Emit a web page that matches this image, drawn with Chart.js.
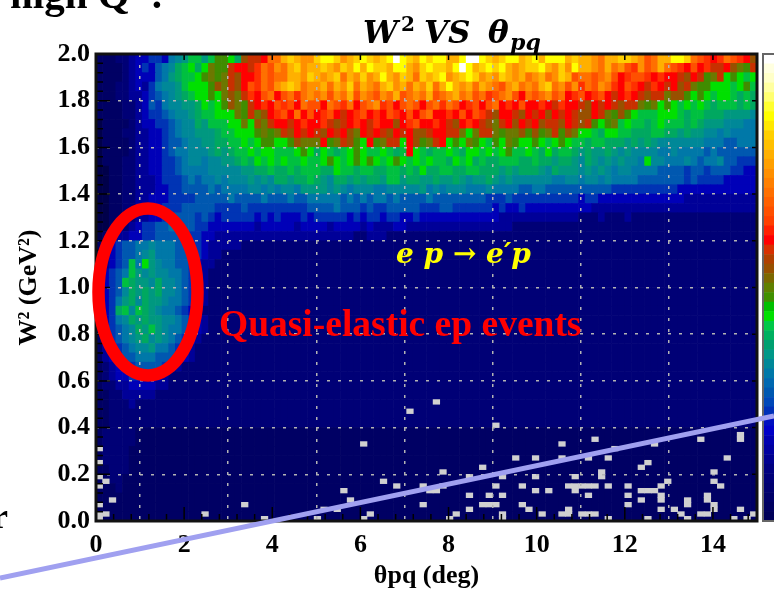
<!DOCTYPE html>
<html>
<head>
<meta charset="utf-8">
<title>W2 VS theta pq</title>
<script src="https://cdn.jsdelivr.net/npm/chart.js@4"></script>
<style>
  html, body { margin: 0; padding: 0; background: #fff; }
  canvas { display: block; }
</style>
</head>
<body>
<canvas id="grafico" width="774" height="593"></canvas>
<script>
const serif = '"Liberation Serif", serif';
const serifAncha = '"DejaVu Serif", serif';

// each row is one strip of W2 (0.04 wide) from 2.0 downwards, one char per 0.15 deg
// a short row keeps its last value up to 15 deg
const filasW2 = [
  "11122344554789bb9bddcafgghkkmnmllnoonlmnonmnoqonmonoommoqqonmnoomnomooomnmmlkmmnnmljkmmoonkjihikjihfge",
  "111123454678abcaceddghhgikjlkmnlmmnmlnmomonnmoomlnonnmoqomnonomlmnnomlnlommlkmkljiljkmkjihjhigghfedg",
  "111123444679abbcdedegfhhikjkkmmlnmlmnkmlnlmomlnmknmnolmnonlmlnmlmklmklnmjkkjkljhijjihihhgfhgdegcdcbc",
  "1112234357889bcccdfegfhjikjlmnmkllmkmlnkmlkmnlmkmlnkmomlmkmlkjlmklkmnkljlikjlkihjihgihghfgeddcccbcdb",
  "1112233456789abccdcefegihjkhjkiklkljlkmjlkjlkmjklkmjklmkljkijkljhkjkljkhijhijhghihgfggeffdcdcbccbaba",
  "111122346578899acbcdfedghihjijhkjjhkjikhjklijhjkjhjkikjhijhjkhihjhhihgihhgfhghgfggedecdcbcbcbabbbaba",
  "111122345567889abbcccedgefhijhkhjhijhghijhihjihjhjkhhihjhjigfhhgfhghfhghgffhgedfdcbbbcccbabbaaa99998",
  "011112344556788a9bbbccecfeghhghihhigfghihgihhfhijhhihgfhihgfeghfhghfggfhgfgdcdebcbbabcbbbaba99988877",
  "011122334456788999abbcccdedegfhghgfhghfehghgfhghffghhggeceggedeefdfdegdfeccbaccbbaaabbaa9a9988787777",
  "011112334456678899aabbcbcddccdfeeehdegfdchdeggchfdeghcdcedcbdcedccdcbcdcbbabbaaa9a9a98888888777667",
  "011112334456778889a9abbcbccbbbcdcacbabcdcbbcbabhcbabbcbaccbcbcdbbcbacabba9a99a98988887787777676666",
  "011122334455678878899abacbcbcbbcbbcdcbcdcdcbcdcbcbcbbacbcabaabbbaabaa9aa98a98989887c88777876778665",
  "001122334455677778888899aabaababbbaacbbabbaabbabacaabbaabbaaa9a9aaa98a99989898788777766665665666554",
  "001122333455567677878889898aa9aaba98aa9a9aa9bb9aa99a99a9899a9898888887788788787777666666656555544444",
  "0011223334455666676777788787887999989878887788888978788877787777667766666666665555555555444444444",
  "00112233444555566666766667666766777776767677676666766666666555655555555554554444444444444333333",
  "0011223344555666665555655555555566667666565566666555665555554544544444444443333333333333333",
  "00112233445666656545555545454445455555454554554454444444444443333333333332223222322222",
  "00122345566766655444444434444434444344443433344333333333333333322222222222",
  "01233445566665554433333333333333333333322333222222222",
  "1345667787776655433333222",
  "13456678977766554332222",
  "13456b7c9877665433222",
  "14567b9898877654322",
  "1456ba998a8876543222",
  "14568a9a9a8876543222",
  "14579a8a998776543222",
  "145ab8ba98776543222",
  "14578a9a998876543222",
  "145678a9b98776543222",
  "1356789a8987654322",
  "1345678897765432",
  "1345667776665432",
  "12345566665432",
  "1234455554322",
  "12233444433222",
  "112233333222",
  "11222322222",
  "1122222",
  "1122222",
  "1222221",
  "1222221",
  "122221",
  "122221",
  "112221",
  "11221",
  "11121",
  "1",
  "1",
  "1"
];

const paleta = {
  "0": "#00004a", "1": "#000064", "2": "#000076", "3": "#000098", "4": "#0000b8",
  "5": "#0034b4", "6": "#0058b0", "7": "#0078a8", "8": "#008898", "9": "#009880",
  "a": "#00a860", "b": "#00c040", "c": "#00e000", "d": "#408c00", "e": "#6c7800",
  "f": "#985000", "g": "#c83000", "h": "#ff0000", "i": "#ff3000", "j": "#ff5000",
  "k": "#ff7000", "l": "#ff9000", "m": "#ffb000", "n": "#ffd000", "o": "#ffff00",
  "p": "#ffff90", "q": "#ffffff"
};

// isolated low-count bins, light grey in the picture
const grisX = [0.1,0.1,0.1,0.25,0.1,0.35,0.1,0.1,0.25,0.1,2.45,3.35,3.8,5,5.1,5.45,5.6,5.75,6.05,6.05,6.2,6.5,6.8,
  7.7,7.1,9.1,7.4,7.55,7.7,7.85,7.85,7.4,8,8.15,8.45,8.45,8.45,8.75,8.9,8.7,8.85,9,9.2,9.1,9.2,9.2,9.2,9.5,9.65,9.65,9.8,
  10,10,10,10.3,10.15,10.6,10.6,10.85,10.65,10.8,10.95,11.1,10.85,11.15,11.15,11.3,11.3,11.45,11.45,11.6,11.6,11.75,
  10.6,10.75,10.75,10.95,11.1,11.25,11.6,12.05,12.05,12.05,12.3,12.45,12.6,12.35,12.35,12.5,12.65,12.5,12.8,12.95,
  12.8,12.8,12.8,13.1,13.25,13.4,13.4,13.4,13.7,13.7,13.85,13.85,13.85,14,14,14.15,14,14,14.3,14.6,14.6,14.6,14.45,14.75,14.9];
const grisY = [0.3,0.25,0.19,0.17,0.15,0.09,0.07,0.03,0.03,0.01,0.03,0.07,0.01,0.01,0.05,0.05,0.13,0.09,0.33,0.01,0.03,0.17,0.15,
  0.51,0.47,0.41,0.15,0.13,0.13,0.21,0.15,0.07,0.01,0.03,0.19,0.11,0.05,0.23,0.11,0.07,0.07,0.07,0.19,0.15,0.11,0.03,0.01,0.27,0.15,0.07,0.05,
  0.27,0.19,0.13,0.13,0.03,0.33,0.27,0.19,0.15,0.15,0.15,0.15,0.13,0.27,0.11,0.15,0.35,0.21,0.19,0.27,0.15,0.3,
  0.03,0.03,0.05,0.03,0.03,0.03,0.01,0.15,0.11,0.07,0.13,0.13,0.13,0.09,0.23,0.25,0.33,0.01,0.15,0.17,
  0.11,0.09,0.05,0.05,0.03,0.01,0.09,0.07,0.35,0.03,0.03,0.11,0.09,0.21,0.17,0.15,0.07,0.05,0.27,0.37,0.35,0.05,0.01,0.01,0.03];

// colour scale on the right, top to bottom
const bandasEscala = ["#ffffff","#ffffe0","#ffffc8","#ffffa0","#ffff70","#ffff30","#ffff00","#ffe800","#ffd000","#ffc000",
  "#ffb000","#ffa000","#ff9000","#ff8000","#ff7000","#ff6000","#ff5000","#ff4000","#ff2000","#ff0000",
  "#d83000","#b04000","#985000","#7c6800","#608000","#409000","#00c000","#00e000","#00c848","#00b060",
  "#00a070","#009888","#008898","#0078a8","#0068b0","#0058b0","#0048b8","#0030b8","#0010c0","#0000c8",
  "#0000b0","#0000a0","#000090","#000080","#000078","#000070","#000068","#000060","#000058"];

const ticksTheta = [0, 2, 4, 6, 8, 10, 12, 14];
const ticksW2 = [0, 0.2, 0.4, 0.6, 0.8, 1.0, 1.2, 1.4, 1.6, 1.8, 2.0];

const celdas = [];
const coloresCeldas = [];
filasW2.forEach((fila, i) => {
  const completa = fila.padEnd(100, fila[fila.length - 1]);
  for (let j = 0; j < 100; j++) {
    celdas.push({ x: (j + 0.5) * 0.15, y: [2 - (i + 1) * 0.04, 2 - i * 0.04] });
    coloresCeldas.push(paleta[completa[j]]);
  }
});

const celdasGrises = grisX.map((x, k) => {
  const col = Math.floor(x / 0.15 + 0.01);
  const fil = Math.floor(grisY[k] / 0.02);
  return { x: (col + 0.5) * 0.15, y: [fil * 0.02, (fil + 1) * 0.02] };
});

// ticks, frame, colour scale and the notes written over the plot
const marcoYNotas = {
  id: "marcoYNotas",
  afterDraw(chart) {
    const { ctx, chartArea: a, scales } = chart;
    ctx.save();

    ctx.strokeStyle = "#000";
    ctx.lineWidth = 1.5;
    ctx.beginPath();
    for (let v = 0; v <= 15; v += 0.4) {
      const px = scales.x.getPixelForValue(v);
      const mayor = Math.abs(v / 2 - Math.round(v / 2)) < 0.01;
      ctx.moveTo(px, a.bottom);
      ctx.lineTo(px, a.bottom - (mayor ? 14 : 7));
      if (mayor) { ctx.moveTo(px, a.top); ctx.lineTo(px, a.top + 6); }
    }
    for (let v = 0; v <= 2.001; v += 0.04) {
      const py = scales.y.getPixelForValue(v);
      const mayor = Math.abs(v / 0.2 - Math.round(v / 0.2)) < 0.01;
      ctx.moveTo(a.left, py);
      ctx.lineTo(a.left + (mayor ? 14 : 7), py);
      if (mayor) { ctx.moveTo(a.right, py); ctx.lineTo(a.right - 5, py); }
    }
    ctx.stroke();

    ctx.strokeStyle = "#111";
    ctx.lineWidth = 3;
    ctx.strokeRect(a.left, a.top, a.right - a.left, a.bottom - a.top);

    // escala de color
    const alto = (a.bottom - a.top) / bandasEscala.length;
    bandasEscala.forEach((color, i) => {
      ctx.fillStyle = color;
      ctx.fillRect(764, a.top + i * alto, 10, alto + 0.5);
    });
    ctx.strokeStyle = "#666";
    ctx.lineWidth = 2;
    ctx.strokeRect(763, a.top, 20, a.bottom - a.top);

    // anillo rojo
    ctx.strokeStyle = "#ff0000";
    ctx.lineWidth = 12.5;
    ctx.beginPath();
    ctx.ellipse(148, 292, 49.5, 83.5, 0, 0, Math.PI * 2);
    ctx.stroke();

    ctx.textBaseline = "alphabetic";
    ctx.textAlign = "left";

    ctx.fillStyle = "#ff0000";
    ctx.font = "bold 37.5px " + serif;
    ctx.fillText("Quasi-elastic ep events", 219, 336);

    ctx.fillStyle = "#ffff00";
    ctx.font = "italic bold 28px " + serifAncha;
    ctx.fillText("e p → e′p", 396, 263);

    ctx.fillStyle = "#000";
    ctx.font = "italic bold 31px " + serifAncha;
    ctx.fillText("W", 363, 43);
    ctx.fillText("VS", 424, 43);
    ctx.fillText("θ", 488, 43);
    ctx.font = "bold 20px " + serifAncha;
    ctx.fillText("2", 401, 31);
    ctx.font = "italic bold 22px " + serifAncha;
    ctx.fillText("pq", 510, 50);

    ctx.font = "bold 41px " + serif;
    ctx.fillText("high Q  :", 10, 8);
    ctx.font = "bold 36px " + serif;
    ctx.fillText("r", -8, 528);

    // linea azul encima de todo
    ctx.strokeStyle = "#a0a0f0";
    ctx.lineWidth = 5;
    ctx.beginPath();
    ctx.moveTo(0, 578);
    ctx.lineTo(774, 416);
    ctx.stroke();

    ctx.restore();
  }
};

new Chart(document.getElementById("grafico"), {
  type: "bar",
  data: {
    datasets: [
      {
        data: celdasGrises,
        backgroundColor: "#d0d0d0",
        grouped: false,
        barPercentage: 1,
        categoryPercentage: 1,
        order: 1
      },
      {
        data: celdas,
        backgroundColor: coloresCeldas,
        grouped: false,
        barPercentage: 1,
        categoryPercentage: 1,
        order: 2
      }
    ]
  },
  options: {
    responsive: false,
    animation: false,
    events: [],
    layout: { padding: { top: 54, right: 17, left: 0, bottom: 0 } },
    plugins: { legend: { display: false }, tooltip: { enabled: false } },
    scales: {
      x: {
        type: "linear",
        offset: false,
        min: 0,
        max: 15,
        afterFit: s => { s.height = 72; },
        afterBuildTicks: s => { s.ticks = ticksTheta.map(v => ({ value: v })); },
        grid: { color: "#b4b4b4", z: 1, drawTicks: false, lineWidth: 1.5 },
        border: { display: false, dash: [3, 8] },
        ticks: {
          color: "#000",
          padding: 9,
          maxRotation: 0,
          autoSkip: false,
          font: { family: serif, weight: "bold", size: 26 }
        },
        title: {
          display: true,
          text: "θpq (deg)",
          color: "#000",
          font: { family: serif, weight: "bold", size: 26 },
          padding: { top: 0, bottom: 1 }
        }
      },
      y: {
        min: 0,
        max: 2,
        afterFit: s => { s.width = 96; },
        afterBuildTicks: s => { s.ticks = ticksW2.map(v => ({ value: v })); },
        grid: { color: "#b4b4b4", z: 1, drawTicks: false, lineWidth: 1.5 },
        border: { display: false, dash: [3, 8] },
        ticks: {
          color: "#000",
          padding: 6,
          autoSkip: false,
          font: { family: serif, weight: "bold", size: 26 },
          callback: v => v.toFixed(1)
        },
        title: {
          display: true,
          text: "W² (GeV²)",
          color: "#000",
          font: { family: serif, weight: "bold", size: 26 },
          padding: { top: 14, bottom: 0 }
        }
      }
    }
  },
  plugins: [marcoYNotas]
});
</script>
</body>
</html>
